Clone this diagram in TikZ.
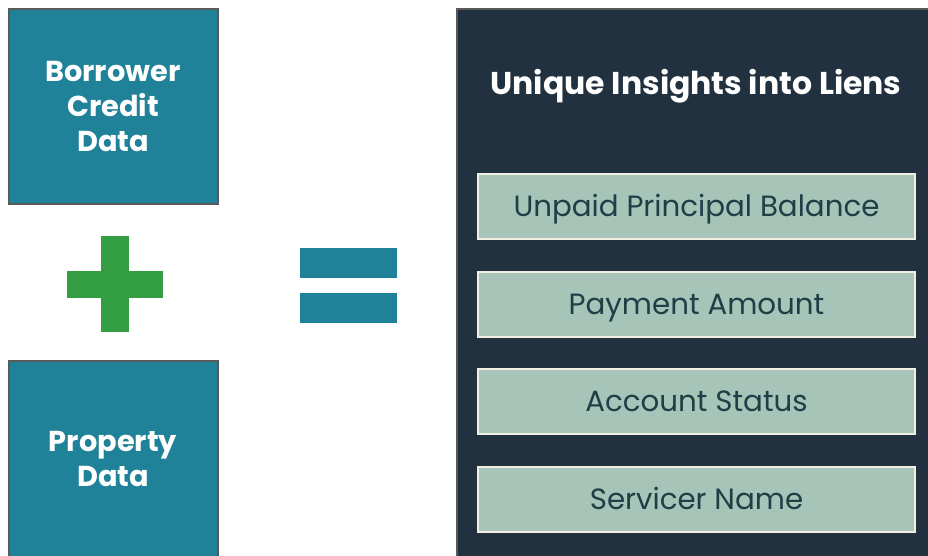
\documentclass[tikz,border=0pt]{standalone}
\usepackage{fontspec}
\setmainfont{Poppins}
\definecolor{teal}{HTML}{1F8299}
\definecolor{boxgray}{HTML}{5A5A5A}
\definecolor{plusgreen}{HTML}{339E41}
\definecolor{panel}{HTML}{22313F}
\definecolor{itemfill}{HTML}{A6C4B8}
\definecolor{itemline}{HTML}{F0EFE2}
\definecolor{itemtext}{HTML}{1E3F46}
\tikzset{
  srcbox/.style={draw=boxgray, line width=2pt, fill=teal, text=white, font=\bfseries\fontsize{28.8}{35}\selectfont, align=center, inner sep=0pt},
  itembox/.style={draw=itemline, line width=2pt, fill=itemfill, text=itemtext, font=\fontsize{29.3}{32}\selectfont, minimum width=437pt, minimum height=65pt, inner sep=0pt, text height=20.5pt, text depth=0pt},
}
\begin{document}
\begin{tikzpicture}[x=1pt,y=-1pt]
\useasboundingbox (0,0) rectangle (928,555);
\begin{scope}
\clip (0,0) rectangle (928,555);
\node[srcbox, minimum width=209pt, minimum height=195pt] (borrower) at (113,106.5) {Borrower\\Credit\\Data};
\node[srcbox, minimum width=209pt, minimum height=196pt] (property) at (113,459) {Property\\Data};
\node[draw=boxgray, line width=2pt, fill=panel, minimum width=480pt, minimum height=560pt, inner sep=0pt, anchor=north west] (panel) at (456,8) {};
\end{scope}
% plus
\fill[plusgreen] (101,236) rectangle (129,332);
\fill[plusgreen] (67,271) rectangle (163,298);
% equals
\fill[teal] (300,248) rectangle (397,278);
\fill[teal] (300,293) rectangle (397,323);
\node[text=white, font=\bfseries\fontsize{31.5}{34}\selectfont] (title) at (696,86) {Unique Insights into Liens};
\node[itembox] (upb) at (696.5,206.5) {Unpaid Principal Balance};
\node[itembox] (pay) at (696.5,304) {Payment Amount};
\node[itembox] (status) at (696.5,401.5) {Account Status};
\node[itembox] (servicer) at (696.5,499) {Servicer Name};
\end{tikzpicture}
\end{document}
